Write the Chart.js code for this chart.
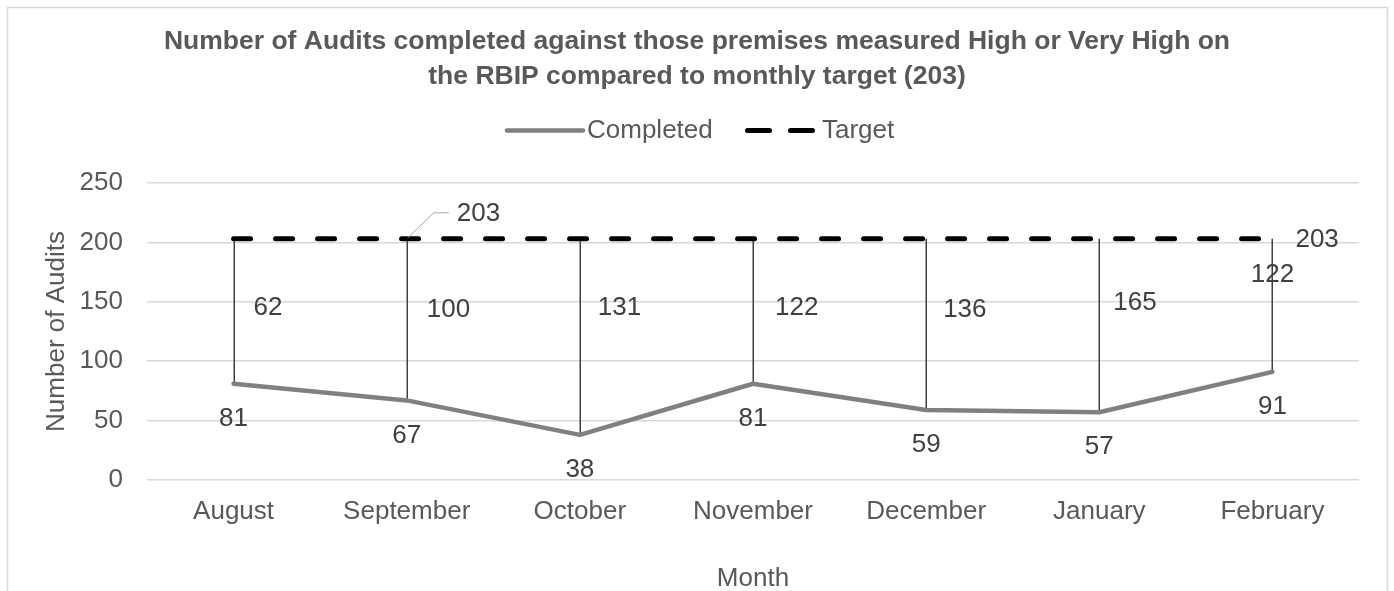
<!DOCTYPE html>
<html>
<head>
<meta charset="utf-8">
<title>Audits completed vs monthly target</title>
<script src="https://cdn.jsdelivr.net/npm/chart.js@4.4.1/dist/chart.umd.min.js"></script>
<style>
  html, body { margin: 0; padding: 0; background: #ffffff; }
  #wrap { width: 1394px; height: 591px; }
  canvas { display: block; }
</style>
</head>
<body>
<div id="wrap"><canvas id="chart" width="1394" height="591"></canvas></div>
<script>
// ---- data ----
const months = ['August', 'September', 'October', 'November', 'December', 'January', 'February'];
const completed = [81, 67, 38, 81, 59, 57, 91];
const target = [203, 203, 203, 203, 203, 203, 203];
const gapLabels = [62, 100, 131, 122, 136, 165, 122];
const yTickValues = [0, 50, 100, 150, 200, 250];
const titleLines = [
  'Number of Audits completed against those premises measured High or Very High on',
  'the RBIP compared to monthly target (203)'
];
const seriesNames = ['Completed', 'Target'];

// ---- styling ----
const FONT = "'Liberation Sans', Arial, Helvetica, sans-serif";
const TEXT = '#595959';
const LABEL = '#404040';
const GRID = '#d9d9d9';
const COMPLETED_COLOR = '#808080';
const TARGET_COLOR = '#000000';

Chart.defaults.font.family = FONT;
Chart.defaults.color = TEXT;

// white background and the thin frame round the chart
const framePlugin = {
  id: 'frame',
  beforeDraw(chart) {
    const ctx = chart.ctx;
    ctx.save();
    ctx.fillStyle = '#ffffff';
    ctx.fillRect(0, 0, chart.width, chart.height);
    ctx.strokeStyle = GRID;
    ctx.lineWidth = 1.5;
    ctx.strokeRect(7.5, 7.5, 1380, 640);
    ctx.restore();
  }
};

// vertical high-low lines between target and completed
const dropLinePlugin = {
  id: 'dropLines',
  beforeDatasetsDraw(chart) {
    const ctx = chart.ctx;
    const xs = chart.scales.x, ys = chart.scales.y;
    ctx.save();
    ctx.strokeStyle = '#404040';
    ctx.lineWidth = 1.5;
    for (let i = 0; i < months.length; i++) {
      const x = Math.round(xs.getPixelForValue(i)) + 0.25;
      ctx.beginPath();
      ctx.moveTo(x, ys.getPixelForValue(target[i]));
      ctx.lineTo(x, ys.getPixelForValue(completed[i]));
      ctx.stroke();
    }
    ctx.restore();
  }
};

// data labels, the gap labels and the target call-outs
const labelPlugin = {
  id: 'valueLabels',
  // placement of the gap labels: horizontal offset from the month (px) and level on the value axis
  gapPlacement: [
    { dx: 20, level: 145.2, align: 'left' },
    { dx: 20, level: 143.5, align: 'left' },
    { dx: 18, level: 144.8, align: 'left' },
    { dx: 22, level: 144.8, align: 'left' },
    { dx: 17, level: 143.5, align: 'left' },
    { dx: 14, level: 149.0, align: 'left' },
    { dx: 0,  level: 173.0, align: 'center' }
  ],
  afterDatasetsDraw(chart) {
    const ctx = chart.ctx;
    const xs = chart.scales.x, ys = chart.scales.y;
    ctx.save();
    ctx.font = '26px ' + FONT;
    ctx.fillStyle = LABEL;
    ctx.textBaseline = 'middle';

    // completed values, below each point
    ctx.textAlign = 'center';
    completed.forEach((v, i) => {
      ctx.fillText(String(v), xs.getPixelForValue(i), ys.getPixelForValue(v) + 35);
    });

    // gap labels
    gapLabels.forEach((v, i) => {
      const p = this.gapPlacement[i];
      ctx.textAlign = p.align;
      ctx.fillText(String(v), xs.getPixelForValue(i) + p.dx, ys.getPixelForValue(p.level));
    });

    // target call-out with leader at September
    const iSep = 1;
    const xS = xs.getPixelForValue(iSep);
    const yT = ys.getPixelForValue(target[iSep]);
    ctx.strokeStyle = '#a6a6a6';
    ctx.lineWidth = 1;
    ctx.beginPath();
    ctx.moveTo(xS + 1, yT - 1);
    ctx.lineTo(xS + 27, yT - 26);
    ctx.lineTo(xS + 42, yT - 26);
    ctx.stroke();
    ctx.textAlign = 'left';
    ctx.fillText(String(target[iSep]), xS + 50, yT - 25);

    // target value at the last month
    const iLast = months.length - 1;
    ctx.fillText(String(target[iLast]), xs.getPixelForValue(iLast) + 23, ys.getPixelForValue(target[iLast]) + 0.5);
    ctx.restore();
  }
};

// legend row under the title
const legendPlugin = {
  id: 'legendRow',
  afterDraw(chart) {
    const ctx = chart.ctx;
    const y = 130.5;
    ctx.save();
    ctx.lineCap = 'round';
    // Completed sample
    ctx.strokeStyle = COMPLETED_COLOR;
    ctx.lineWidth = 4.5;
    ctx.beginPath();
    ctx.moveTo(507, y);
    ctx.lineTo(583, y);
    ctx.stroke();
    // Target sample
    ctx.strokeStyle = TARGET_COLOR;
    ctx.lineWidth = 5;
    ctx.setLineDash([22, 21]);
    ctx.beginPath();
    ctx.moveTo(747.5, y);
    ctx.lineTo(812.5, y);
    ctx.stroke();
    ctx.setLineDash([]);
    ctx.font = '26px ' + FONT;
    ctx.fillStyle = TEXT;
    ctx.textBaseline = 'middle';
    ctx.textAlign = 'left';
    ctx.fillText(seriesNames[0], 587, y);
    ctx.fillText(seriesNames[1], 822, y);
    ctx.restore();
  }
};

new Chart(document.getElementById('chart'), {
  type: 'line',
  data: {
    labels: months,
    datasets: [
      {
        label: seriesNames[0],
        data: completed,
        borderColor: COMPLETED_COLOR,
        backgroundColor: COMPLETED_COLOR,
        borderWidth: 4.5,
        borderCapStyle: 'round',
        borderJoinStyle: 'round',
        pointRadius: 0,
        tension: 0,
        order: 1
      },
      {
        label: seriesNames[1],
        data: target,
        borderColor: TARGET_COLOR,
        backgroundColor: TARGET_COLOR,
        borderWidth: 5,
        borderDash: [17, 25],
        borderCapStyle: 'round',
        pointRadius: 0,
        tension: 0,
        order: 2
      }
    ]
  },
  options: {
    responsive: false,
    animation: false,
    devicePixelRatio: 1,
    layout: { padding: { left: 0, right: 0, top: 0, bottom: 0 } },
    plugins: {
      legend: { display: false },
      tooltip: { enabled: false },
      title: {
        display: true,
        text: titleLines,
        color: TEXT,
        font: { family: FONT, size: 26.5, weight: 'bold', lineHeight: 35 / 26.5 },
        padding: { top: 24, bottom: 89 }
      }
    },
    scales: {
      x: {
        type: 'category',
        offset: true,
        grid: { display: false, drawTicks: false },
        border: { display: false },
        ticks: {
          color: TEXT,
          font: { size: 26 },
          padding: 16,
          maxRotation: 0,
          autoSkip: false
        },
        title: {
          display: true,
          text: 'Month',
          color: TEXT,
          font: { size: 26, lineHeight: 0.9 },
          padding: { top: 0, bottom: 0 }
        },
        afterFit(scale) { scale.height = 111; }
      },
      y: {
        position: 'left',
        min: 0,
        max: 250,
        afterBuildTicks(scale) { scale.ticks = yTickValues.map(v => ({ value: v })); },
        grid: { color: GRID, lineWidth: 1.5, drawTicks: false },
        border: { display: false },
        ticks: { color: TEXT, font: { size: 26 }, padding: 24 },
        title: {
          display: true,
          text: 'Number of Audits',
          color: TEXT,
          font: { size: 26, lineHeight: 1 },
          padding: { top: 44, bottom: 0 }
        },
        afterFit(scale) { scale.width = 147; }
      },
      yRight: {
        position: 'right',
        display: true,
        grid: { display: false, drawTicks: false },
        border: { display: false },
        ticks: { display: false },
        afterFit(scale) { scale.width = 35; }
      }
    }
  },
  plugins: [framePlugin, dropLinePlugin, labelPlugin, legendPlugin]
});
</script>
</body>
</html>
